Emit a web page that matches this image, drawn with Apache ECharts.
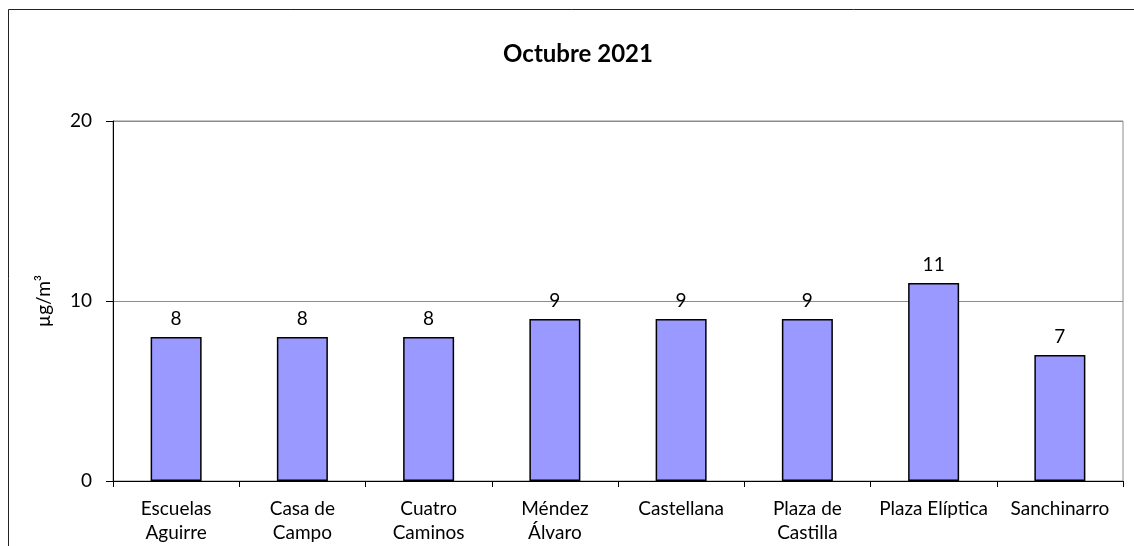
<!DOCTYPE html>
<html><head><meta charset="utf-8">
<script src="https://cdn.jsdelivr.net/npm/echarts@6/dist/echarts.min.js"></script>
<style>html,body{margin:0;padding:0;background:#fff}#c{width:1134px;height:546px}</style>
</head><body><div id="c"></div>
<script>
const categories = ['Escuelas\nAguirre','Casa de\nCampo','Cuatro\nCaminos','Méndez\nÁlvaro','Castellana','Plaza de\nCastilla','Plaza Elíptica','Sanchinarro'];
const values = [8, 8, 8, 9, 9, 9, 11, 7];
const titleText = 'Octubre 2021';
const yName = 'µg/m³';
const yTicks = [0, 10, 20];

const font = 'Lato, "Open Sans", sans-serif';
const chart = echarts.init(document.getElementById('c'), null, {renderer: 'canvas'});
chart.setOption({
  animation: false,
  backgroundColor: '#fff',
  title: {text: titleText, left: 573, textAlign: 'center', top: 37, textStyle: {fontFamily: font, fontSize: 24, fontWeight: 'bold', color: '#000'}},
  graphic: [{type: 'rect', shape: {x: 8.5, y: 9.5, width: 1300, height: 700}, style: {fill: 'none', stroke: '#222', lineWidth: 1}, silent: true, z: 100}],
  grid: {left: 113, right: 11, top: 121, bottom: 65, show: true, borderColor: '#8c8c8c', borderWidth: 1, backgroundColor: 'transparent'},
  xAxis: {
    type: 'category', data: categories,
    axisLine: {lineStyle: {color: '#000', width: 1}},
    axisTick: {show: true, length: 6, alignWithLabel: false, lineStyle: {color: '#000'}},
    axisLabel: {fontFamily: font, fontSize: 19, color: '#000', margin: 16, lineHeight: 24, interval: 0}
  },
  yAxis: {
    type: 'value', min: yTicks[0], max: yTicks[yTicks.length - 1], interval: 10,
    name: yName, nameLocation: 'middle', nameGap: 60, nameRotate: 90,
    nameTextStyle: {fontFamily: font, fontSize: 19, color: '#000'},
    axisLine: {show: true, lineStyle: {color: '#000', width: 1}},
    axisTick: {show: true, length: 7, lineStyle: {color: '#000'}},
    axisLabel: {fontFamily: font, fontSize: 19, color: '#000', margin: 21},
    splitLine: {show: true, lineStyle: {color: '#8c8c8c', width: 1}}
  },
  series: [{
    type: 'bar', data: values, barWidth: 51,
    itemStyle: {color: '#9999FF', borderColor: '#000', borderWidth: 1.5},
    label: {show: true, position: 'top', distance: 9, fontFamily: font, fontSize: 19, color: '#000'}
  }]
});
</script></body></html>
